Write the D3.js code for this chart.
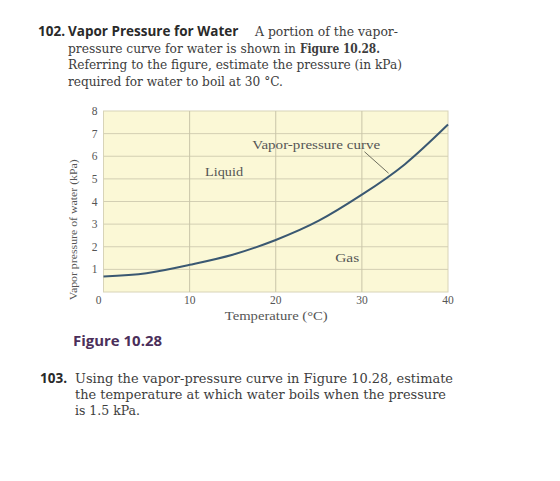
<!DOCTYPE html>
<html>
<head>
<meta charset="utf-8">
<script src="https://cdn.jsdelivr.net/npm/d3@7"></script>
<style>
  body { margin: 0; background: #fff; }
  svg { display: block; }
</style>
</head>
<body>
<div id="chart"></div>
<script>
// values
var temps = [0, 5, 10, 15, 20, 25, 30, 35, 40];
var pressures = [0.69, 0.83, 1.2, 1.65, 2.3, 3.15, 4.3, 5.65, 7.4];
var xTicks = [0, 10, 20, 30, 40];
var yTicks = [1, 2, 3, 4, 5, 6, 7, 8];

var question1 = [
  "pressure curve for water is shown in",
  "Referring to the figure, estimate the pressure (in kPa)",
  "required for water to boil at 30 °C."
];
var question2 = [
  "Using the vapor-pressure curve in Figure 10.28, estimate",
  "the temperature at which water boils when the pressure",
  "is 1.5 kPa."
];

function drawPage() {
  var width = 560, height = 481;
  var margin = {left: 103.5, right: 112, top: 111, bottom: 189};

  var svg = d3.select("#chart").append("svg")
    .attr("width", width)
    .attr("height", height);

  svg.append("rect").attr("width", width).attr("height", height).attr("fill", "#fff");

  var serif = "'DejaVu Serif', 'Liberation Serif', serif";
  var sans = "'Open Sans', 'DejaVu Sans', sans-serif";
  var textColor = "#3d3d3d";

  // ---- question 102
  var q = svg.append("g").attr("fill", textColor);
  var head = q.append("g").attr("font-family", sans).attr("font-weight", "bold")
    .attr("font-size", 13.5).attr("fill", "#2a2a2a");
  head.append("text").attr("x", 38).attr("y", 36).text("102.");
  head.append("text").attr("x", 68).attr("y", 36).text("Vapor Pressure for Water");
  q.append("text").attr("x", 255).attr("y", 36)
    .attr("font-family", serif).attr("font-size", 12.5)
    .attr("textLength", 143).attr("lengthAdjust", "spacingAndGlyphs")
    .text("A portion of the vapor-");

  var q1Widths = [228, 334, 215];
  question1.forEach(function (line, i) {
    q.append("text").attr("x", 68).attr("y", 53 + i * 16.3)
      .attr("font-family", serif).attr("font-size", 12.5)
      .attr("textLength", q1Widths[i]).attr("lengthAdjust", "spacingAndGlyphs")
      .text(line);
  });
  q.append("text").attr("x", 300).attr("y", 53)
    .attr("font-family", serif).attr("font-size", 12.5).attr("font-weight", "bold")
    .attr("textLength", 80).attr("lengthAdjust", "spacingAndGlyphs")
    .text("Figure 10.28.");

  // ---- chart
  var x = d3.scaleLinear().domain([0, 40]).range([margin.left, width - margin.right]);
  var y = d3.scaleLinear().domain([0, 8]).range([height - margin.bottom, margin.top]);

  var plot = svg.append("g");
  plot.append("rect")
    .attr("x", x(0)).attr("y", y(8))
    .attr("width", x(40) - x(0)).attr("height", y(0) - y(8))
    .attr("fill", "#fbf8d6")
    .attr("stroke", "#d8d4b8").attr("stroke-width", 1);

  plot.append("g").selectAll("line")
    .data(yTicks.filter(function (d) { return d < 8; }))
    .join("line")
    .attr("x1", x(0)).attr("x2", x(40))
    .attr("y1", function (d) { return y(d); }).attr("y2", function (d) { return y(d); })
    .attr("stroke", "#d3cfb3").attr("stroke-width", 1);

  plot.append("g").selectAll("line")
    .data(xTicks.filter(function (d) { return d > 0 && d < 40; }))
    .join("line")
    .attr("y1", y(0)).attr("y2", y(8))
    .attr("x1", function (d) { return x(d); }).attr("x2", function (d) { return x(d); })
    .attr("stroke", "#c9c5a8").attr("stroke-width", 1);

  var labelFont = "'Liberation Serif', 'DejaVu Serif', serif";

  // tick labels
  svg.append("g").selectAll("text")
    .data(yTicks)
    .join("text")
    .attr("x", x(0) - 9)
    .attr("y", function (d) { return y(d); })
    .attr("dy", "0.35em")
    .attr("text-anchor", "middle")
    .attr("font-family", labelFont).attr("font-size", 11.5).attr("fill", "#555")
    .text(function (d) { return d; });

  svg.append("g").selectAll("text")
    .data(xTicks)
    .join("text")
    .attr("x", function (d) { return d === 0 ? x(d) - 5 : x(d); })
    .attr("y", y(0) + 12)
    .attr("text-anchor", "middle")
    .attr("font-family", labelFont).attr("font-size", 11.5).attr("fill", "#555")
    .text(function (d) { return d; });

  svg.append("text")
    .attr("x", (x(0) + x(40)) / 2 + 0.5)
    .attr("y", y(0) + 28)
    .attr("text-anchor", "middle")
    .attr("font-family", labelFont).attr("font-size", 11.5).attr("fill", "#555")
    .attr("textLength", 103).attr("lengthAdjust", "spacingAndGlyphs")
    .text("Temperature (°C)");

  svg.append("text")
    .attr("transform", "translate(" + (x(0) - 27) + "," + y(2.75) + ") rotate(-90)")
    .attr("text-anchor", "middle")
    .attr("font-family", labelFont).attr("font-size", 11).attr("fill", "#555")
    .attr("textLength", 141).attr("lengthAdjust", "spacingAndGlyphs")
    .text("Vapor pressure of water (kPa)");

  // curve
  var pts = temps.map(function (t, i) { return [t, pressures[i]]; });
  var line = d3.line()
    .x(function (d) { return x(d[0]); })
    .y(function (d) { return y(d[1]); })
    .curve(d3.curveNatural);

  svg.append("path")
    .datum(pts)
    .attr("d", line)
    .attr("fill", "none")
    .attr("stroke", "#3a5872")
    .attr("stroke-width", 2);

  // annotations
  var ann = svg.append("g").attr("font-family", labelFont).attr("font-size", 12.5).attr("fill", "#555");
  ann.append("text").attr("x", x(14)).attr("y", y(5.3)).attr("dy", "0.35em")
    .attr("text-anchor", "middle")
    .attr("textLength", 38).attr("lengthAdjust", "spacingAndGlyphs").text("Liquid");
  ann.append("text").attr("x", x(28.3)).attr("y", y(1.5)).attr("dy", "0.35em")
    .attr("text-anchor", "middle")
    .attr("textLength", 24).attr("lengthAdjust", "spacingAndGlyphs").text("Gas");
  ann.append("text").attr("x", x(24.7)).attr("y", y(6.5)).attr("dy", "0.35em")
    .attr("text-anchor", "middle")
    .attr("textLength", 128).attr("lengthAdjust", "spacingAndGlyphs").text("Vapor-pressure curve");
  svg.append("line")
    .attr("x1", x(30.3)).attr("y1", y(6.2))
    .attr("x2", x(33.1)).attr("y2", y(5.25))
    .attr("stroke", "#6e6e5e").attr("stroke-width", 1);

  // ---- figure caption
  svg.append("text")
    .attr("x", 73).attr("y", 346)
    .attr("font-family", sans).attr("font-weight", "bold").attr("font-size", 14)
    .attr("fill", "#4b2f5a")
    .attr("textLength", 89).attr("lengthAdjust", "spacingAndGlyphs")
    .text("Figure 10.28");

  // ---- question 103
  var q2 = svg.append("g").attr("fill", textColor);
  q2.append("text").attr("x", 40).attr("y", 383)
    .attr("font-family", sans).attr("font-weight", "bold").attr("font-size", 13.5)
    .attr("fill", "#2a2a2a").text("103.");
  var q2Widths = [378, 371, 65];
  question2.forEach(function (line, i) {
    q2.append("text").attr("x", 75).attr("y", 383 + i * 16)
      .attr("font-family", serif).attr("font-size", 13.5)
      .attr("textLength", q2Widths[i]).attr("lengthAdjust", "spacingAndGlyphs")
      .text(line);
  });
}

drawPage();
</script>
</body>
</html>
